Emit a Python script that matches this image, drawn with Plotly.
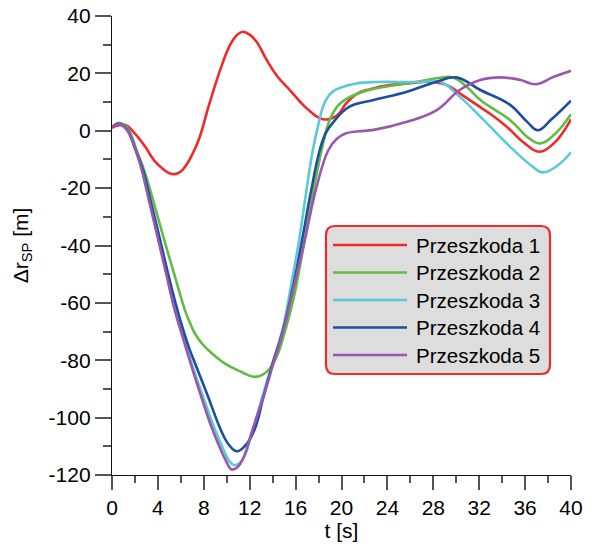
import plotly.graph_objects as go

# ---- data -------------------------------------------------------------
series_names = ["Przeszkoda 1", "Przeszkoda 2", "Przeszkoda 3", "Przeszkoda 4", "Przeszkoda 5"]
series_colors = ["#ee2b2b", "#62bb43", "#5cc8da", "#1d4f9e", "#9b56ad"]

t_1 = [0, 0.5, 1.16, 2.0, 2.9, 3.7, 4.5, 5.0, 5.5, 6.0, 6.5, 7.0, 7.6, 8.5, 9.5, 10.3, 10.9,
       11.39, 12.0, 12.6, 13.48, 14.4, 15.5, 16.97, 18.4, 19.6, 20.4, 21.3, 22.5, 24.2, 26.0,
       27.7, 29.2, 30.5, 31.8, 33.1, 34.4, 36.0, 37.2, 38.5, 40]
dr_1 = [1.0, 1.8, 2.0, -1.0, -5.6, -10.5, -13.5, -14.8, -15.1, -14.2, -11.8, -8.2, -2.7, 9.6,
        22, 30, 33.4, 34.5, 33.5, 31, 24.7, 19, 14.2, 7.8, 4.0, 5.3, 9.5, 12.8, 14.5, 15.9,
        16.6, 17.1, 15.9, 12.5, 9.0, 5.5, 1.4, -4.5, -7.3, -4.4, 4.0]

t_2 = [0, 0.6, 1.3, 2.3, 2.8, 3.6, 4.56, 5.5, 6.36, 6.8, 7.2, 7.8, 8.4, 9.85, 11.3, 12.4,
       13.3, 14.2, 15.1, 15.9, 16.7, 17.5, 18.4, 19.0, 19.9, 21.9, 24.2, 26.5, 28.3, 29.7,
       31.0, 32.1, 34.7, 36.3, 37.3, 38.5, 40]
dr_2 = [1.2, 2.7, 1.2, -8.5, -13.7, -24.5, -38.2, -51, -62.6, -67, -70.5, -74, -76.5, -81.2,
        -84.1, -85.8, -84.6, -80, -69.5, -57, -40, -22, -4.4, 4, 9.6, 13.6, 15.6, 17, 18.3,
        18.6, 15.0, 10.7, 3.7, -2.5, -4.4, -1.5, 5.8]

t_3 = [0, 0.6, 1.3, 2.0, 2.6, 3.3, 4.1, 4.8, 5.53, 6.3, 7.1, 7.96, 8.95, 9.7, 10.2, 10.66,
       11.2, 11.6, 12.26, 13.1, 13.97, 14.85, 15.6, 16.3, 16.9, 17.5, 18.0, 18.4, 18.8, 19.3,
       19.9, 21.3, 23, 25, 27, 28.6, 30.3, 32.4, 34.7, 36.5, 37.5, 38.7, 40]
dr_3 = [1.2, 2.4, 0.4, -6, -13.7, -25.5, -38.2, -49.5, -62, -72.5, -83, -93, -104, -111,
        -115, -116.6, -115.5, -113, -104.4, -92.8, -81.2, -69.5, -54, -38.2, -22, -6.8, 2.5,
        8.5, 11.8, 13.8, 15.0, 16.5, 17.0, 17.0, 17.0, 17.1, 11.9, 3.7, -5.6, -12, -14.5,
        -12.5, -7.5]

t_4 = [0, 0.6, 1.3, 2.0, 2.7, 3.4, 4.2, 4.9, 5.6, 6.1, 6.7, 7.38, 8.4, 9.4, 10.1, 10.87,
       11.6, 12.4, 13.2, 14.0, 14.9, 15.8, 16.56, 17.3, 18.1, 18.6, 19.3, 20.7, 22.8, 25.7,
       28.3, 30.0, 32.1, 34.7, 36.2, 37.1, 38.3, 40]
dr_4 = [1.2, 2.5, 0.5, -6, -13.7, -25, -38.2, -50, -61, -68, -75.5, -82.5, -93, -103.5, -109,
        -111.7, -109.8, -104.4, -92.8, -81.2, -69.5, -54, -38.2, -22, -6.8, -1, 3.1, 8.4,
        10.7, 13.6, 17.1, 18.6, 14.2, 9.0, 3, 0.2, 4, 10.5]

t_5 = [0, 0.6, 1.3, 2.0, 2.6, 3.3, 4.04, 4.7, 5.43, 6.2, 7.0, 7.8, 8.69, 9.4, 9.9, 10.43,
       10.95, 11.45, 12.23, 13.19, 14.06, 14.93, 15.9, 16.8, 17.8, 18.85, 19.6, 20.4, 21.5,
       22.8, 25.7, 28.3, 30.3, 32.1, 33.8, 35.6, 36.9, 38.5, 40]
dr_5 = [1.2, 2.3, 0.3, -6, -13.7, -25.5, -38.2, -49.5, -62, -72.5, -83, -93, -103.5, -110.5,
        -114.8, -118.1, -117.2, -114, -104.4, -92.8, -81.2, -69.5, -53.5, -38.2, -20, -6.8,
        -2.8, -0.9, -0.2, 0.3, 3.1, 7.2, 14.2, 17.7, 18.6, 17.7, 16.2, 18.8, 20.9]

t_series = [t_1, t_2, t_3, t_4, t_5]
dr_series = [dr_1, dr_2, dr_3, dr_4, dr_5]

x_ticks = list(range(0, 41, 4))
y_ticks = list(range(-120, 41, 20))
y_ticklabels = [str(v) for v in y_ticks]

# ---- figure -----------------------------------------------------------
W, H = 594, 550
L, R, T, B = 112, 23, 16, 75
pw, ph = W - L - R, H - T - B

FONT = "Liberation Sans, Arial, Helvetica, sans-serif"

fig = go.Figure()
for name, col, tt, vv in zip(series_names, series_colors, t_series, dr_series):
    fig.add_trace(go.Scatter(
        x=tt, y=vv, mode="lines", name=name,
        line=dict(color=col, width=2.6, shape="spline", smoothing=1.2),
        showlegend=False, hoverinfo="skip",
    ))

axis_common = dict(
    showgrid=False, zeroline=False, showline=True, linecolor="#111111", linewidth=1.3,
    tickcolor="#555555", tickwidth=1.5, automargin=False,
)
tick_font = dict(family=FONT, size=21, color="#000000")

fig.update_layout(
    width=W, height=H,
    margin=dict(l=L, r=R, t=T, b=B, autoexpand=False),
    paper_bgcolor="white", plot_bgcolor="white",
    xaxis=dict(
        range=[0, 40], tickvals=x_ticks, ticktext=[str(v) for v in x_ticks],
        ticks="outside", ticklen=14, tickfont=tick_font,
        minor=dict(dtick=2, ticks="outside", ticklen=7, tickcolor="#555555", tickwidth=1.5),
        title=dict(text="t [s]", font=dict(family=FONT, size=21, color="#000000"), standoff=4),
        **axis_common,
    ),
    yaxis=dict(
        range=[-120, 40], tickvals=y_ticks, ticktext=y_ticklabels,
        ticks="outside", ticklen=16, tickfont=tick_font,
        minor=dict(dtick=10, ticks="outside", ticklen=8, tickcolor="#555555", tickwidth=1.5),
        title=dict(text="\u0394r<sub>SP</sub> [m]", font=dict(family=FONT, size=21, color="#000000"),
                   standoff=14),
        **axis_common,
    ),
    xaxis2=dict(
        overlaying="x", anchor="y", side="top", range=[0, 40], tickvals=x_ticks,
        ticks="inside", ticklen=16, showticklabels=False,
        minor=dict(dtick=2, ticks="inside", ticklen=8, tickcolor="#555555", tickwidth=1.5),
        **axis_common,
    ),
    yaxis2=dict(
        overlaying="y", anchor="x", side="right", range=[-120, 40], tickvals=y_ticks,
        ticks="inside", ticklen=16, showticklabels=False,
        minor=dict(dtick=10, ticks="inside", ticklen=8, tickcolor="#555555", tickwidth=1.5),
        **axis_common,
    ),
)


def px_x(px):
    return (px - L) / pw


def px_y(py):
    return (H - B - py) / ph


# legend box with rounded corners
bx0, bx1, by0, by1, rad = 326, 550, 226, 374, 9
path = (
    f"M {px_x(bx0 + rad)},{px_y(by0)} L {px_x(bx1 - rad)},{px_y(by0)} "
    f"Q {px_x(bx1)},{px_y(by0)} {px_x(bx1)},{px_y(by0 + rad)} "
    f"L {px_x(bx1)},{px_y(by1 - rad)} "
    f"Q {px_x(bx1)},{px_y(by1)} {px_x(bx1 - rad)},{px_y(by1)} "
    f"L {px_x(bx0 + rad)},{px_y(by1)} "
    f"Q {px_x(bx0)},{px_y(by1)} {px_x(bx0)},{px_y(by1 - rad)} "
    f"L {px_x(bx0)},{px_y(by0 + rad)} "
    f"Q {px_x(bx0)},{px_y(by0)} {px_x(bx0 + rad)},{px_y(by0)} Z"
)
fig.add_shape(type="path", path=path, xref="paper", yref="paper",
              fillcolor="#dddddd", line=dict(color="#ee2b2b", width=2.2), layer="above")

row0, row_step = 245, 27.5
for i, (name, col) in enumerate(zip(series_names, series_colors)):
    yy = row0 + i * row_step
    fig.add_shape(type="line", xref="paper", yref="paper",
                  x0=px_x(333), x1=px_x(407), y0=px_y(yy), y1=px_y(yy),
                  line=dict(color=col, width=2.6), layer="above")
    fig.add_annotation(text=name, xref="paper", yref="paper",
                       x=px_x(414), y=px_y(yy), xanchor="left", yanchor="middle",
                       showarrow=False, font=dict(family=FONT, size=20.5, color="#000000"))

fig.write_html("out.html")
